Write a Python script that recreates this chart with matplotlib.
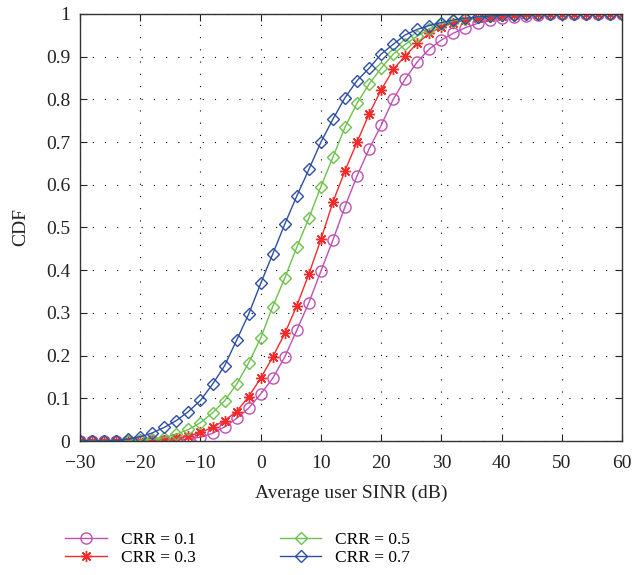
import numpy as np
import matplotlib
matplotlib.use("Agg")
import matplotlib.pyplot as plt

plt.rcParams['font.family'] = ['Liberation Serif', 'DejaVu Serif']

# SINR axis (dB), one sample every 2 dB
sinr = np.arange(-30, 61, 2)

cdf_01 = [0, 0, 0, 0, 0, 0, 0,
          0.001, 0.002, 0.005, 0.009, 0.018, 0.033, 0.053, 0.077, 0.110,
          0.147, 0.197, 0.260, 0.324, 0.398, 0.471, 0.549, 0.621, 0.684,
          0.739, 0.800, 0.848, 0.888, 0.918, 0.939, 0.955, 0.968, 0.978,
          0.986, 0.991, 0.994, 0.996, 0.998, 0.999,
          1, 1, 1, 1, 1, 1]
cdf_03 = [0, 0, 0, 0, 0, 0,
          0.001, 0.003, 0.006, 0.012, 0.020, 0.032, 0.048, 0.069, 0.104,
          0.147, 0.197, 0.252, 0.317, 0.391, 0.472, 0.560, 0.633, 0.700,
          0.766, 0.822, 0.870, 0.902, 0.931, 0.955, 0.969, 0.979, 0.986,
          0.991, 0.994, 0.996, 0.998, 0.999,
          1, 1, 1, 1, 1, 1, 1, 1]
cdf_05 = [0, 0, 0, 0, 0,
          0.002, 0.004, 0.008, 0.016, 0.027, 0.043, 0.066, 0.094, 0.133,
          0.183, 0.241, 0.315, 0.382, 0.454, 0.522, 0.596, 0.665, 0.735,
          0.791, 0.836, 0.873, 0.906, 0.929, 0.948, 0.965, 0.977, 0.984,
          0.989, 0.992, 0.995, 0.997, 0.998, 0.999,
          1, 1, 1, 1, 1, 1, 1, 1]
cdf_07 = [0, 0, 0,
          0.001, 0.005, 0.010, 0.019, 0.032, 0.048, 0.069, 0.095, 0.133,
          0.176, 0.236, 0.297, 0.369, 0.438, 0.508, 0.574, 0.636, 0.700,
          0.754, 0.804, 0.844, 0.873, 0.906, 0.929, 0.951, 0.964, 0.973,
          0.980, 0.986, 0.990, 0.993, 0.995, 0.997, 0.998, 0.999,
          1, 1, 1, 1, 1, 1, 1, 1]

labels = ['CRR = 0.1', 'CRR = 0.3', 'CRR = 0.5', 'CRR = 0.7']
x_ticks = [-30, -20, -10, 0, 10, 20, 30, 40, 50, 60]
y_ticks = [0, 0.1, 0.2, 0.3, 0.4, 0.5, 0.6, 0.7, 0.8, 0.9, 1]
y_tick_labels = ['0', '0.1', '0.2', '0.3', '0.4', '0.5', '0.6', '0.7', '0.8', '0.9', '1']

fig = plt.figure(figsize=(6.42, 5.75), dpi=100)
ax = fig.add_axes([0.1246, 0.233, 0.8444, 0.7427])

ax.plot(sinr, cdf_01, color='#c04fb4', lw=1, marker='o', ms=8, mfc='none', mew=1, label=labels[0])
ax.plot(sinr, cdf_03, color='#f52a2a', lw=1, marker=(8, 2, 0), ms=8, mew=1, label=labels[1])
ax.plot(sinr, cdf_05, color='#6cc24a', lw=1, marker='D', ms=6.5, mfc='none', mew=1, label=labels[2])
ax.plot(sinr, cdf_07, color='#2e4ea6', lw=1, marker='D', ms=6.5, mfc='none', mew=1, label=labels[3])

ax.set_xlim(-30, 60)
ax.set_ylim(0, 1)
ax.set_xticks(x_ticks)
ax.set_yticks(y_ticks)
ax.set_yticklabels(y_tick_labels)
ax.tick_params(direction='in', top=True, right=True, length=5, labelsize=14, colors='#222222')
ax.tick_params(axis='x', pad=10)
ax.tick_params(axis='y', pad=7)
ax.grid(True, color='k', linestyle=(0, (1, 10)), linewidth=0.8)
for s in ax.spines.values():
    s.set_color('#333333')
    s.set_linewidth(1)

ax.set_xlabel('Average user SINR (dB)', fontsize=14, color='#222222', labelpad=9)
ax.set_ylabel('CDF', fontsize=14, color='#222222', labelpad=12)

fig.legend(loc='lower left', bbox_to_anchor=(0.077, -0.012), ncol=2, frameon=False,
           fontsize=12.5, columnspacing=4.85, handlelength=2.4, handletextpad=0.8,
           labelspacing=0.1)

fig.savefig('out.png', dpi=100)
